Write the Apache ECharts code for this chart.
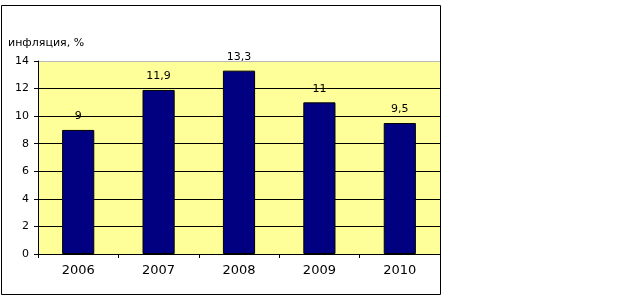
<!DOCTYPE html>
<html><head><meta charset="utf-8">
<script src="https://cdn.jsdelivr.net/npm/echarts@6/dist/echarts.min.js"></script>
<style>html,body{margin:0;padding:0;background:#fff}#c{width:619px;height:303px}</style>
</head><body><div id="c"></div>
<script>
const categories = ['2006', '2007', '2008', '2009', '2010'];
const inflation = [9, 11.9, 13.3, 11, 9.5];
const yAxisTitle = 'инфляция, %';

const FONT = 'DejaVu Sans, Verdana, sans-serif';
const chart = echarts.init(document.getElementById('c'), null, {renderer: 'canvas'});
chart.setOption({
  animation: false,
  backgroundColor: '#fff',
  textStyle: {fontFamily: FONT, color: '#000'},
  title: {
    text: yAxisTitle, left: 3, top: 33,
    textStyle: {fontSize: 11, fontWeight: 'normal', color: '#000', fontFamily: FONT}
  },
  graphic: [{
    type: 'rect', z: 100,
    shape: {x: 1.5, y: 5.5, width: 439, height: 289},
    style: {fill: 'none', stroke: '#000', lineWidth: 1}
  }],
  grid: {
    left: 38, top: 61, right: 179, bottom: 49,
    show: true, backgroundColor: '#FFFF99', borderWidth: 0
  },
  xAxis: {
    type: 'category', data: categories,
    axisLine: {lineStyle: {color: '#000', width: 1}},
    axisTick: {show: true, length: 4, lineStyle: {color: '#000'}},
    axisLabel: {fontSize: 13, color: '#000', margin: 10, fontFamily: FONT}
  },
  yAxis: {
    type: 'value', min: 0, max: 14, interval: 2,
    axisLine: {show: true, lineStyle: {color: '#000', width: 1}},
    axisTick: {show: true, length: 4, lineStyle: {color: '#000'}},
    axisLabel: {fontSize: 11, color: '#000', margin: 9, fontFamily: FONT},
    splitLine: {show: true, lineStyle: {color: ['#000','#000','#000','#000','#000','#000','#000','#bbb'], width: 1}}
  },
  series: [{
    type: 'bar', data: inflation, barWidth: '40%',
    itemStyle: {color: '#000080', borderColor: '#000', borderWidth: 1},
    label: {
      show: true, position: 'top', distance: 8, fontSize: 11, color: '#000', fontFamily: FONT,
      formatter: p => String(p.value).replace('.', ',')
    }
  }]
});
</script></body></html>
